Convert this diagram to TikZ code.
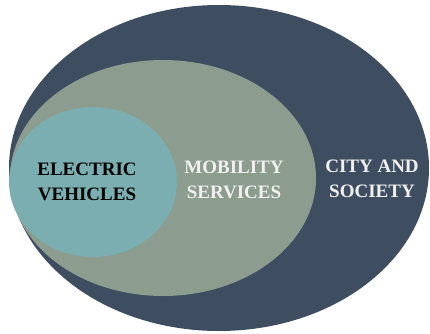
\documentclass[tikz,border=0pt]{standalone}
\usepackage{fontspec}
\setmainfont{Liberation Serif}

\definecolor{cityblue}{RGB}{62,78,96}
\definecolor{mobsage}{RGB}{140,156,142}
\definecolor{evteal}{RGB}{122,174,176}

\tikzset{
  ringtext/.style={align=center, font=\fontsize{19}{25}\selectfont\bfseries, inner sep=0pt}
}

\begin{document}
\begin{tikzpicture}[x=1pt, y=1pt]
  \useasboundingbox (0,0) rectangle (430,333);

  % Nested rings
  \fill[cityblue] (219,165) ellipse [x radius=210, y radius=163];
  \fill[mobsage] (163,155) ellipse [x radius=153, y radius=118];
  \fill[evteal] (93,151) ellipse [x radius=84, y radius=75];

  % Ring labels
  \node[ringtext, text=black] (ev) at (87,151) {ELECTRIC\\VEHICLES};
  \node[ringtext, text=white!94!black] (mob) at (234,153) {MOBILITY\\SERVICES};
  \node[ringtext, text=white!94!black] (city) at (372,154) {CITY AND\\SOCIETY};
\end{tikzpicture}
\end{document}
